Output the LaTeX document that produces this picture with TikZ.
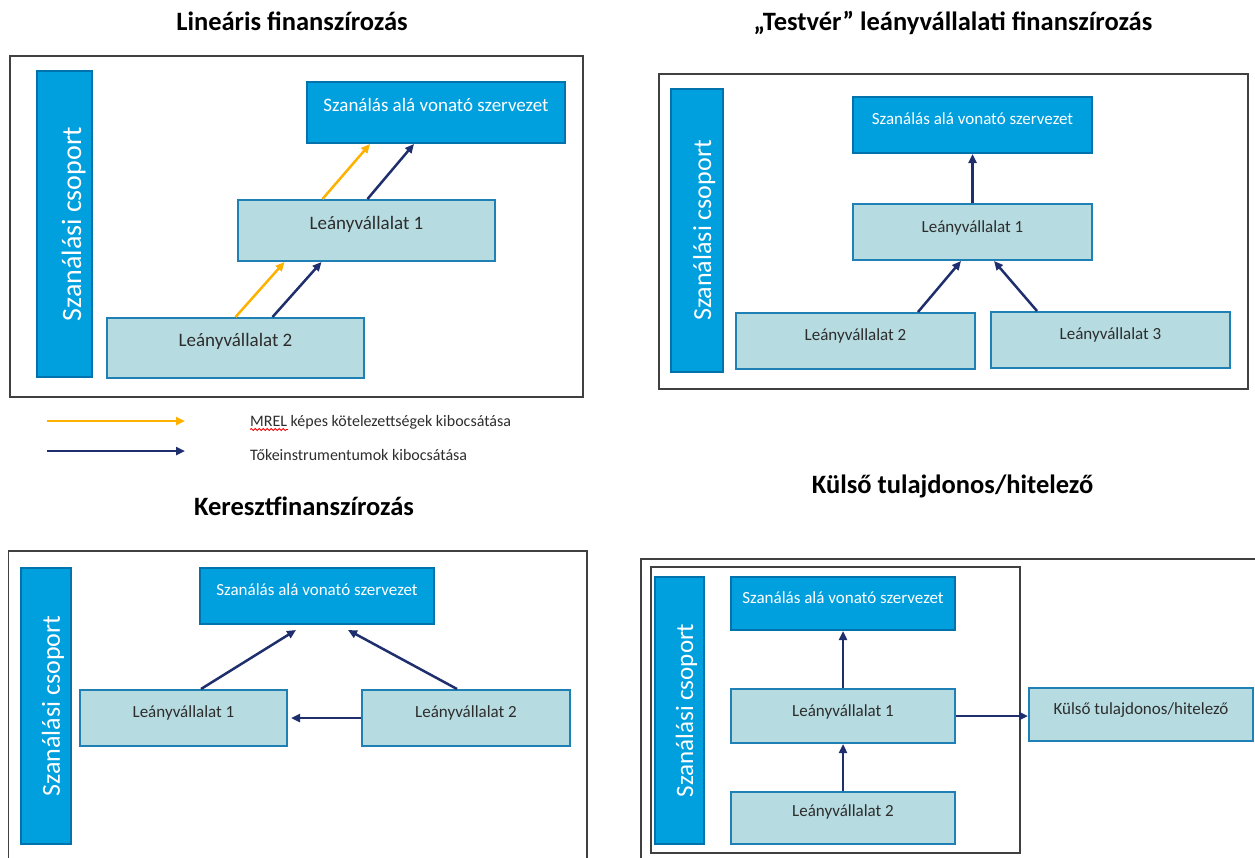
\documentclass[tikz,border=0pt]{standalone}
\usepackage{fontspec}
\setmainfont{Carlito}
\usetikzlibrary{arrows.meta,decorations.pathmorphing}

\definecolor{darkbox}{RGB}{0,160,223}
\definecolor{darkedge}{RGB}{0,114,172}
\definecolor{lightbox}{RGB}{182,219,224}
\definecolor{lightedge}{RGB}{30,128,180}
\definecolor{navy}{RGB}{31,47,110}
\definecolor{amber}{RGB}{255,177,0}
\definecolor{framegray}{RGB}{64,64,64}
\definecolor{boxtext}{RGB}{45,45,45}

\tikzset{
  paneltitle/.style={font=\fontsize{26.5}{30}\selectfont\bfseries, anchor=base},
  entity/.style={draw=darkedge, fill=darkbox, line width=2pt, inner sep=0pt, text=white},
  subsid/.style={draw=lightedge, fill=lightbox, line width=2pt, inner sep=0pt, text=boxtext},
  grpbar/.style={draw=darkedge, fill=darkbox, line width=2pt, inner sep=0pt, text=white, rotate=90},
  panelframe/.style={draw=framegray, line width=1.5pt},
  tokei/.style={navy, line width=2.5pt, -{Triangle[length=9pt,width=8pt]}},
  mrelarrow/.style={amber, line width=2.5pt, -{Triangle[length=9pt,width=8pt]}},
  legend/.style={font=\fontsize{16}{19}\selectfont, text=boxtext, inner sep=0pt, anchor=base west}
}

\begin{document}
\begin{tikzpicture}[x=1pt, y=-1pt]
    \useasboundingbox (0,0) rectangle (1255,857);
    \clip (0,0) rectangle (1255,857);

    % Lineáris finanszírozás
    \node[paneltitle] (t1) at (292,30) {Lineáris finanszírozás};
    \draw[panelframe] (10,56) rectangle (583,397);
    \node[grpbar, minimum width=306pt, text height=44pt, text depth=11pt,
          font=\fontsize{28}{32}\selectfont] (grp1) at (64.5,224) {Szanálási csoport};
    \begin{scope}[font=\fontsize{19}{22}\selectfont]
    \node[entity, minimum width=258pt, text height=29pt, text depth=32pt] (res1) at (436,112.5) {Szanálás alá vonató szervezet};
    \node[subsid, minimum width=257pt, text height=29pt, text depth=32pt] (sub11) at (366.5,230.5) {Leányvállalat 1};
    \node[subsid, minimum width=257pt, text height=28pt, text depth=32pt] (sub12) at (235.5,348) {Leányvállalat 2};
    \end{scope}
    \draw[mrelarrow] (sub12.north) -- ([xshift=-82pt]sub11.south);
    \draw[tokei] ([xshift=37pt]sub12.north) -- ([xshift=-45pt]sub11.south);
    \draw[mrelarrow] ([xshift=-44pt]sub11.north) -- ([xshift=-66pt]res1.south);
    \draw[tokei] ([xshift=1pt]sub11.north) -- ([xshift=-22pt]res1.south);

    % Legend
    \node[legend] (leg1) at (250,426) {MREL képes kötelezettségek kibocsátása};
    \node[legend] (leg2) at (250,460) {Tőkeinstrumentumok kibocsátása};
    \draw[mrelarrow] ([xshift=-203pt,yshift=5pt]leg1.base west) -- ([xshift=-65pt,yshift=5pt]leg1.base west);
    \draw[tokei] ([xshift=-203pt,yshift=9pt]leg2.base west) -- ([xshift=-65pt,yshift=9pt]leg2.base west);
    \draw[red, line width=0.8pt, decorate, decoration={snake, amplitude=1pt, segment length=4pt}]
        ([yshift=-3.5pt]leg1.base west) -- ([xshift=38pt,yshift=-3.5pt]leg1.base west);

    % Testvér leányvállalati finanszírozás
    \node[paneltitle] (t2) at (953,30) {„Testvér” leányvállalati finanszírozás};
    \draw[panelframe] (659,74) rectangle (1248,389);
    \node[grpbar, minimum width=283pt, text height=40pt, text depth=12pt,
          font=\fontsize{26}{30}\selectfont] (grp2) at (697,230.5) {Szanálási csoport};
    \begin{scope}[font=\fontsize{17}{20}\selectfont]
    \node[entity, minimum width=239pt, text height=27pt, text depth=29pt] (res2) at (972.5,125) {Szanálás alá vonató szervezet};
    \node[subsid, minimum width=239pt, text height=28pt, text depth=28pt] (sub21) at (972.5,232) {Leányvállalat 1};
    \node[subsid, minimum width=239pt, text height=27pt, text depth=29pt] (sub22) at (855.5,341) {Leányvállalat 2};
    \node[subsid, minimum width=239pt, text height=27pt, text depth=29pt] (sub23) at (1110.5,340) {Leányvállalat 3};
    \end{scope}
    \draw[tokei] (sub21.north) -- (res2.south);
    \draw[tokei] ([xshift=62.5pt]sub22.north) -- ([xshift=-11.5pt]sub21.south);
    \draw[tokei] ([xshift=-73.5pt]sub23.north) -- ([xshift=21.5pt]sub21.south);

    % Keresztfinanszírozás
    \node[paneltitle] (t3) at (304,515) {Keresztfinanszírozás};
    \draw[panelframe] (8.5,551) rectangle (587,880);
    \node[grpbar, minimum width=276pt, text height=39pt, text depth=11.5pt,
          font=\fontsize{26}{30}\selectfont] (grp3) at (46,706) {Szanálási csoport};
    \begin{scope}[font=\fontsize{17}{20}\selectfont]
    \node[entity, minimum width=234pt, text height=27pt, text depth=29pt] (res3) at (317,596) {Szanálás alá vonató szervezet};
    \node[subsid, minimum width=207pt, text height=27pt, text depth=29pt] (sub31) at (183.5,718) {Leányvállalat 1};
    \node[subsid, minimum width=208pt, text height=27pt, text depth=29pt] (sub32) at (466,718) {Leányvállalat 2};
    \end{scope}
    \draw[tokei] ([xshift=17.5pt]sub31.north) -- ([xshift=-21pt,yshift=-5pt]res3.south);
    \draw[tokei] ([xshift=-9pt]sub32.north) -- ([xshift=31pt,yshift=-5pt]res3.south);
    \draw[tokei] (sub32.west) -- ([xshift=3pt]sub31.east);

    % Külső tulajdonos/hitelező
    \node[paneltitle] (t4) at (952.5,493) {Külső tulajdonos/hitelező};
    \draw[panelframe] (641,559) rectangle (1280,880);
    \draw[panelframe] (651,567) rectangle (1020,853);
    \node[grpbar, minimum width=267pt, text height=38pt, text depth=11pt,
          font=\fontsize{25}{29}\selectfont] (grp4) at (679.5,710.5) {Szanálási csoport};
    \begin{scope}[font=\fontsize{17}{20}\selectfont]
    \node[entity, minimum width=224pt, text height=26pt, text depth=27pt] (res4) at (843,603.5) {Szanálás alá vonató szervezet};
    \node[subsid, minimum width=224pt, text height=27pt, text depth=27pt] (sub41) at (843,716) {Leányvállalat 1};
    \node[subsid, minimum width=224pt, text height=24pt, text depth=28pt] (sub42) at (843,818) {Leányvállalat 2};
    \node[subsid, minimum width=224pt, text height=26pt, text depth=27pt] (ext4) at (1141,714.5) {Külső tulajdonos/hitelező};
    \end{scope}
    \draw[tokei] (sub41.north) -- (res4.south);
    \draw[tokei] (sub42.north) -- (sub41.south);
    \draw[tokei] (sub41.east) -- (sub41.east -| ext4.west);
\end{tikzpicture}
\end{document}
